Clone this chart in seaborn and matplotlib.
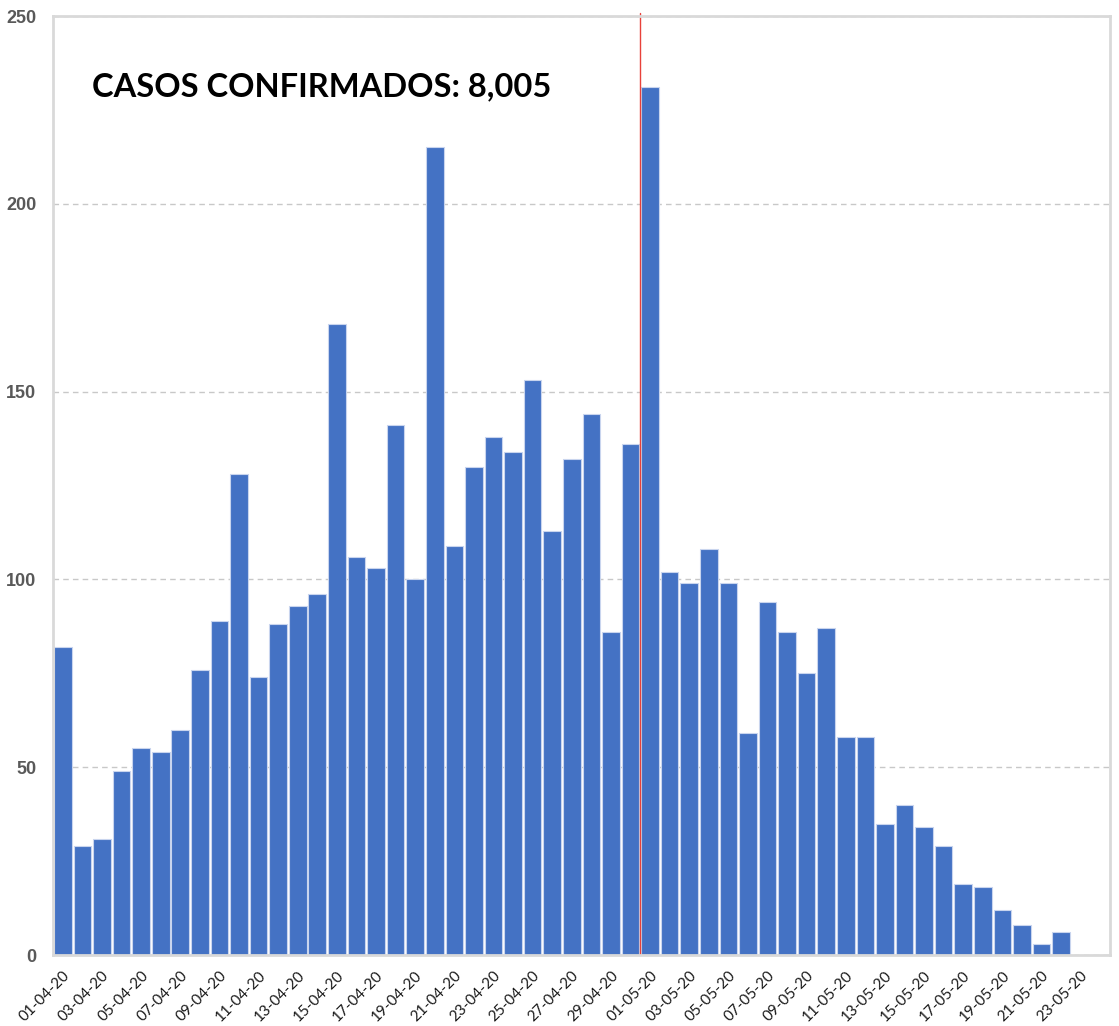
import matplotlib
matplotlib.use('Agg')
import matplotlib.pyplot as plt
import seaborn as sns
import numpy as np
import pandas as pd

# Daily confirmed cases, 01-04-20 .. 22-05-20
dates = pd.date_range('2020-04-01', '2020-05-24', freq='D')
labels = [d.strftime('%d-%m-%y') for d in dates]
cases = [82, 29, 31, 49, 55, 54, 60, 76, 89, 128,
         74, 88, 93, 96, 168, 106, 103, 141, 100, 215,
         109, 130, 138, 134, 153, 113, 132, 144, 86, 136,
         231, 102, 99, 108, 99, 59, 94, 86, 75, 87,
         58, 58, 35, 40, 34, 29, 19, 18, 12, 8,
         3, 6]
title_text = 'CASOS CONFIRMADOS: 8,005'
marker_day = '01-05-20'

df = pd.DataFrame({'fecha': labels[:len(cases)], 'casos': cases})

sns.set_style('white')
plt.rcParams['font.family'] = ['Liberation Sans', 'DejaVu Sans']

fig = plt.figure(figsize=(11.19, 10.26), dpi=100)
ax = fig.add_axes([0.0474, 0.0692, 0.9446, 0.9152])

sns.barplot(data=df, x='fecha', y='casos', order=labels, color='#4472C4',
            saturation=1, width=0.9, edgecolor='#c9d5ee', linewidth=0.8, ax=ax)

ax.set_xlim(-0.5, len(labels) - 0.5)
ax.set_ylim(0, 250)
ax.yaxis.grid(True, color='#c8c8c8', linestyle=(0, (4, 3)), linewidth=1)
ax.set_axisbelow(True)

ax.set_xticks(range(0, len(labels), 2))
ax.set_xticklabels(labels[::2], rotation=45, ha='right', rotation_mode='anchor',
                   fontsize=11, color='#1a1a1a', family=['Lato', 'DejaVu Sans'])
ax.set_yticks([0, 50, 100, 150, 200, 250])
ax.set_yticklabels(['0', '50', '100', '150', '200', '250'], fontsize=13,
                   fontweight='bold', color='#595959',
                   family=['Liberation Sans Narrow', 'Liberation Sans', 'DejaVu Sans'])
ax.tick_params(axis='both', length=0)
ax.tick_params(axis='x', pad=10)
ax.tick_params(axis='y', pad=12)
ax.set_xlabel('')
ax.set_ylabel('')

for s in ax.spines.values():
    s.set_color('#d9d9d9')
    s.set_linewidth(2)

# vertical marker between 30-04 and 01-05
ax.axvline(labels.index(marker_day) - 0.5, color='#e8413a', linewidth=1, ymax=1.003, clip_on=False)

ax.text(0.037, 0.925, title_text, transform=ax.transAxes, fontsize=23.5,
        fontweight='bold', color='black', family=['Lato', 'DejaVu Sans'],
        va='center', ha='left')

fig.savefig('out.png', dpi=100)
